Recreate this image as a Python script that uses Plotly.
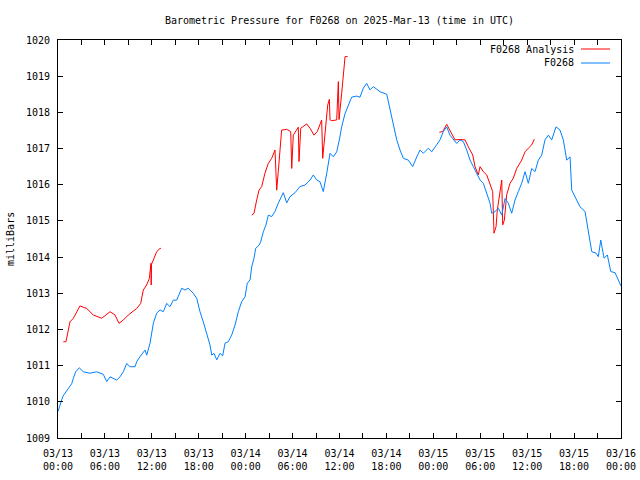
import pandas as pd
import plotly.graph_objects as go

BASE = pd.Timestamp("2025-03-13 00:00")

# F0268 observed pressure (hours since 2025-03-13 00:00 UTC, millibars)
obs_hours = [0.00, 0.60, 0.90, 1.32, 1.75, 1.96, 2.26, 2.72, 3.24, 4.09, 4.95, 5.79, 6.23, 6.65, 7.51, 7.93,
             8.35, 8.79, 9.21, 9.85, 10.07, 10.49, 11.13, 11.35, 11.77, 12.19, 12.62, 13.05, 13.47, 13.90,
             14.32, 14.75, 15.18, 15.82, 16.24, 16.66, 17.30, 17.74, 18.16, 18.58, 19.02, 19.44, 19.66,
             19.95, 20.30, 20.72, 21.06, 21.36, 21.78, 22.22, 22.64, 23.06, 23.49, 23.92, 24.21, 24.56,
             24.77, 25.07, 25.28, 25.71, 25.92, 26.26, 26.60, 26.90, 27.33, 27.75, 28.17, 28.81, 29.25,
             29.67, 30.31, 30.95, 31.59, 32.23, 32.65, 33.09, 33.51, 33.93, 34.37, 34.79, 35.21, 35.64,
             35.98, 36.28, 36.71, 37.13, 37.56, 38.20, 38.62, 39.05, 39.48, 39.90, 40.32, 40.76, 41.18,
             42.04, 42.46, 42.88, 43.32, 43.74, 44.16, 44.80, 45.36, 45.88, 46.30, 46.72, 47.36, 47.79,
             48.43, 48.86, 49.28, 49.71, 50.13, 50.56, 50.99, 51.41, 51.84, 52.27, 52.69, 53.12, 53.55,
             53.97, 54.39, 54.83, 55.25, 55.47, 55.89, 56.31, 56.75, 57.17, 57.59, 58.02, 58.45, 58.87,
             59.30, 59.73, 60.15, 60.58, 61.00, 61.43, 61.86, 62.28, 62.71, 63.14, 63.69, 64.20, 64.62,
             65.06, 65.48, 65.70, 66.34, 66.76, 67.40, 67.82, 68.26, 68.81, 69.10, 69.41, 69.83, 70.25,
             70.69, 71.24, 71.79, 72.00]
obs_values = [1009.73, 1010.14, 1010.24, 1010.37, 1010.50, 1010.65, 1010.83, 1010.94, 1010.83, 1010.79,
              1010.83, 1010.76, 1010.56, 1010.69, 1010.60, 1010.69, 1010.83, 1011.06, 1010.97, 1010.97,
              1011.11, 1011.25, 1011.43, 1011.29, 1011.62, 1012.17, 1012.45, 1012.54, 1012.49, 1012.72,
              1012.63, 1012.81, 1012.81, 1013.14, 1013.09, 1013.14, 1013.00, 1012.86, 1012.49, 1012.21,
              1011.85, 1011.57, 1011.29, 1011.34, 1011.16, 1011.34, 1011.27, 1011.62, 1011.66, 1011.85,
              1012.12, 1012.49, 1012.77, 1012.90, 1013.28, 1013.37, 1013.73, 1013.97, 1014.24, 1014.33,
              1014.42, 1014.70, 1014.89, 1015.16, 1015.12, 1015.26, 1015.49, 1015.78, 1015.50, 1015.67,
              1015.78, 1015.95, 1015.99, 1016.13, 1016.27, 1016.13, 1016.08, 1015.81, 1016.32, 1016.87,
              1016.77, 1016.91, 1017.24, 1017.60, 1017.97, 1018.20, 1018.42, 1018.45, 1018.42, 1018.67,
              1018.80, 1018.62, 1018.71, 1018.64, 1018.57, 1018.50, 1018.07, 1017.70, 1017.24, 1016.96,
              1016.73, 1016.68, 1016.50, 1016.77, 1016.96, 1016.87, 1017.01, 1016.91, 1017.10, 1017.24,
              1017.47, 1017.60, 1017.37, 1017.24, 1017.14, 1017.24, 1017.19, 1016.96, 1016.68, 1016.50,
              1016.32, 1016.13, 1016.04, 1015.76, 1015.49, 1015.21, 1015.26, 1015.35, 1015.16, 1015.62,
              1015.49, 1015.21, 1015.58, 1015.81, 1016.04, 1016.36, 1016.04, 1016.45, 1016.36, 1016.68,
              1016.82, 1017.24, 1017.37, 1017.24, 1017.60, 1017.51, 1017.24, 1016.68, 1016.77, 1015.85,
              1015.58, 1015.39, 1015.26, 1014.66, 1014.15, 1014.11, 1014.01, 1014.47, 1013.97, 1014.06,
              1013.60, 1013.57, 1013.27, 1013.20]

# F0268 Analysis, three separate runs
ana1_hours = [0.68, 1.02, 1.53, 1.96, 2.81, 3.67, 4.51, 5.59, 6.65, 7.29, 7.80, 8.35, 8.99, 10.07, 10.58,
              10.91, 11.34, 11.68, 11.89, 11.92, 11.96, 12.19, 12.62, 13.05, 13.17]
ana1_values = [1011.66, 1011.66, 1012.21, 1012.31, 1012.65, 1012.58, 1012.40, 1012.31, 1012.49, 1012.40,
               1012.17, 1012.26, 1012.40, 1012.58, 1012.72, 1013.09, 1013.23, 1013.41, 1013.83, 1013.23,
               1013.80, 1013.92, 1014.15, 1014.24, 1014.24]
ana2_hours = [24.77, 25.07, 25.41, 25.71, 26.05, 26.47, 26.90, 27.33, 27.75, 27.97, 28.17, 28.60, 29.25,
              29.76, 29.89, 30.09, 30.73, 30.82, 31.04, 31.81, 32.23, 32.74, 33.16, 33.72, 33.85, 34.15,
              34.49, 34.70, 34.79, 35.00, 35.64, 35.85, 35.94, 36.28, 36.49, 36.71, 37.05]
ana2_values = [1015.16, 1015.21, 1015.58, 1015.85, 1015.95, 1016.32, 1016.59, 1016.73, 1016.96, 1015.85,
               1016.36, 1017.51, 1017.53, 1017.47, 1016.45, 1017.37, 1017.59, 1016.64, 1017.56, 1017.68,
               1017.56, 1017.37, 1017.47, 1017.79, 1016.73, 1017.33, 1018.20, 1018.36, 1017.79, 1017.77,
               1017.79, 1018.85, 1017.80, 1018.53, 1019.08, 1019.54, 1019.54]
ana3_hours = [48.77, 49.20, 49.71, 50.13, 50.77, 51.41, 52.05, 52.47, 53.04, 53.33, 53.75, 53.97, 54.39,
              54.83, 55.25, 55.59, 55.76, 56.02, 56.18, 56.44, 56.75, 56.87, 57.08, 57.38, 57.81, 58.23,
              58.66, 59.30, 59.73, 60.15, 60.58, 60.92]
ana3_values = [1017.45, 1017.47, 1017.67, 1017.51, 1017.24, 1017.25, 1017.24, 1017.05, 1016.82, 1016.50,
               1016.27, 1016.50, 1016.36, 1016.27, 1016.04, 1015.81, 1014.66, 1014.84, 1015.30, 1015.67,
               1016.13, 1014.89, 1015.02, 1015.72, 1016.04, 1016.18, 1016.45, 1016.68, 1016.91, 1017.01,
               1017.10, 1017.26]

tick_hours = list(range(0, 73, 3))
tick_labels = ["03/13<br>00:00", "", "03/13<br>06:00", "", "03/13<br>12:00", "", "03/13<br>18:00", "",
               "03/14<br>00:00", "", "03/14<br>06:00", "", "03/14<br>12:00", "", "03/14<br>18:00", "",
               "03/15<br>00:00", "", "03/15<br>06:00", "", "03/15<br>12:00", "", "03/15<br>18:00", "",
               "03/16<br>00:00"]


def to_time(hours):
    return list(BASE + pd.to_timedelta(hours, unit="h"))


ana_x, ana_y = [], []
for hs, vs in [(ana1_hours, ana1_values), (ana2_hours, ana2_values), (ana3_hours, ana3_values)]:
    if ana_x:
        ana_x.append(None)
        ana_y.append(None)
    ana_x += to_time(hs)
    ana_y += vs

FONT = "DejaVu Sans Mono"
RED = "#ff0000"
BLUE = "#0080ff"

fig = go.Figure()
fig.add_trace(go.Scatter(x=ana_x, y=ana_y, mode="lines", name="F0268 Analysis",
                         line=dict(color=RED, width=1), connectgaps=False))
fig.add_trace(go.Scatter(x=to_time(obs_hours), y=obs_values, mode="lines", name="F0268",
                         line=dict(color=BLUE, width=1)))

fig.update_layout(
    width=640, height=480,
    margin=dict(l=58, r=19, t=40, b=42),
    paper_bgcolor="white", plot_bgcolor="white",
    showlegend=False,
    font=dict(family=FONT, size=10, color="black"),
    title=dict(text="Barometric Pressure for F0268 on 2025-Mar-13 (time in UTC)",
               x=0.5, xref="paper", xanchor="center", y=1 - 20 / 480, yanchor="middle",
               font=dict(family=FONT, size=10, color="black")),
)
fig.update_xaxes(
    range=[BASE, BASE + pd.Timedelta(hours=72)],
    tickmode="array", tickvals=to_time(tick_hours), ticktext=tick_labels,
    ticks="inside", ticklen=5, tickcolor="black", tickwidth=1,
    showline=True, linecolor="black", linewidth=1, mirror="allticks",
    showgrid=False, zeroline=False, ticklabelstandoff=6, automargin=False,
    tickfont=dict(family=FONT, size=10, color="black"),
)
fig.update_yaxes(
    range=[1009, 1020], dtick=1, tick0=1009,
    ticks="inside", ticklen=5, tickcolor="black", tickwidth=1,
    showline=True, linecolor="black", linewidth=1, mirror="allticks",
    showgrid=False, zeroline=False, ticklabelstandoff=5, automargin=False,
    tickfont=dict(family=FONT, size=10, color="black"),
)

# y-axis title
fig.add_annotation(text="milliBars", xref="paper", yref="paper", x=(10 - 58) / 563, y=0.5,
                   xanchor="center", yanchor="middle", textangle=-90, showarrow=False,
                   font=dict(family=FONT, size=10, color="black"))

# manual legend (text left of line sample, gnuplot style)
legend_items = [("F0268 Analysis", RED, 49), ("F0268", BLUE, 63)]
for label, color, ypix in legend_items:
    yp = 1 - (ypix - 40) / 398
    fig.add_annotation(text=label, xref="paper", yref="paper", x=(576 - 58) / 563, y=yp,
                       xanchor="right", yanchor="middle", showarrow=False,
                       font=dict(family=FONT, size=10, color="black"))
    fig.add_shape(type="line", xref="paper", yref="paper", x0=(581 - 58) / 563, x1=(610 - 58) / 563,
                  y0=yp, y1=yp, line=dict(color=color, width=1))

fig.write_html("out.html", config={"displayModeBar": False},
               post_script="document.body.style.margin='0';document.body.style.padding='0';")
